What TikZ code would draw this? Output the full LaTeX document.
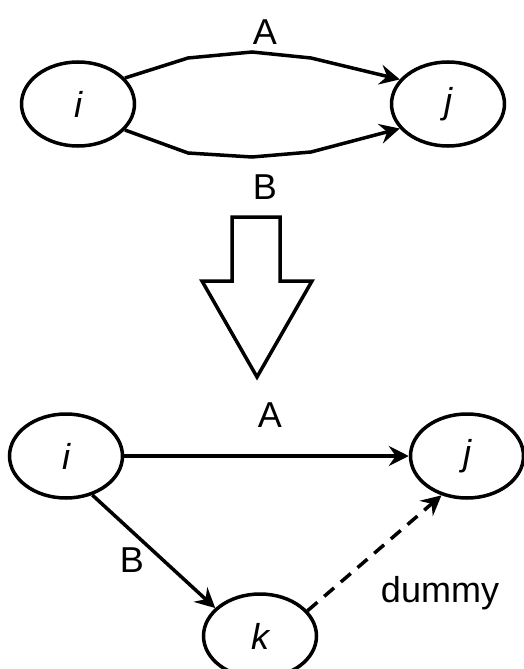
\documentclass[tikz,border=0pt]{standalone}
\usepackage{fontspec}
\setmainfont{Liberation Sans}
\usetikzlibrary{arrows.meta, shapes.geometric}
\tikzset{
  event/.style={
    ellipse,
    draw=black,
    line width=3.5pt,
    minimum width=113pt,
    minimum height=84pt,
    inner sep=0pt,
    font=\fontsize{36}{40}\selectfont\itshape
  },
  lbl/.style={
    font=\fontsize{36}{40}\selectfont,
    inner sep=0pt
  },
  arrow/.style={
    -{Stealth[length=20pt, width=20pt, inset=7pt]},
    line width=3.5pt
  },
  dummyarrow/.style={
    arrow,
    dash pattern=on 13pt off 9pt
  }
}

\begin{document}
\begin{tikzpicture}[x=1pt, y=-1pt]
\useasboundingbox (0,0) rectangle (523,669);

% Nodes, parallel activities
\node[event] (ti) at (78,104) {i};
\node[event] (tj) at (448,104) {j};
\node[lbl] (ta) at (265,32) {A};
\node[lbl] (tb) at (265,187) {B};

% Parallel arrows
\draw[arrow] (ti.29) -- (188,58) -- (252,52) -- (311,58) -- (tj.153);
\draw[arrow] (ti.-29) -- (188,153) -- (252,157) -- (311,152) -- (tj.-153);

% Big down arrow
\draw[line width=3.5pt, line join=miter]
  (232,217) -- (280,217) -- (280,281) -- (312,281) -- (257,377)
  -- (202,281) -- (232,281) -- cycle;

% Nodes, with dummy activity
\node[event] (bi) at (66,456) {i};
\node[event] (bj) at (467,456) {j};
\node[event] (bk) at (260,636) {k};
\node[lbl] (ba) at (270,415) {A};
\node[lbl] (bb) at (132,560) {B};
\node[lbl] (bd) at (440,593) {dummy};

% Arrows
\draw[arrow] (bi) -- (bj);
\draw[arrow] (bi.-56) -- (bk.148);
\draw[dummyarrow] (bk.28) -- (bj.-123);

\end{tikzpicture}
\end{document}
